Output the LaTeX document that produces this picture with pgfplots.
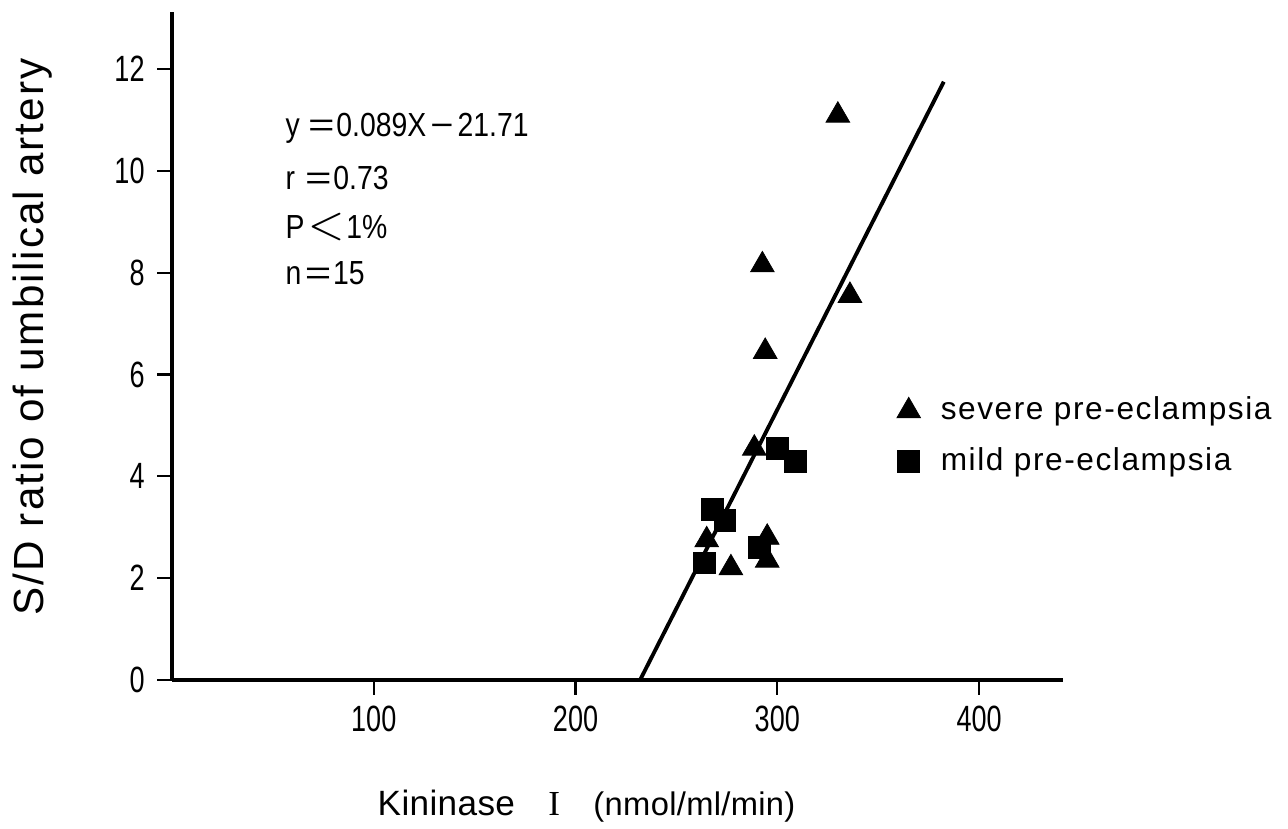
\documentclass[border=0pt]{standalone}
\usepackage{fontspec}
\setmainfont{Liberation Sans}
\newfontfamily\narrowfont[FakeStretch=0.74]{Liberation Sans}
\newfontfamily\notefont[FakeStretch=0.85]{Liberation Sans}
\newfontfamily\labfont[LetterSpace=5]{Liberation Sans}
\newfontfamily\xlabfont[LetterSpace=1]{Liberation Sans}
\newfontfamily\serfont{Liberation Serif}
\usepackage{pgfplots}
\pgfplotsset{compat=1.18}

% severe (triangles) and mild (squares) pre-eclampsia
\pgfplotstableread{
x y
330 11.09
336 7.55
292.6 8.15
294 6.45
288.6 4.55
265 2.75
277 2.2
295 2.8
295 2.35
}\severe
\pgfplotstableread{
x y
300 4.55
309 4.3
268 3.35
274 3.14
264 2.3
291 2.6
}\mild

\newcommand{\eq}{\scalebox{1.6}[1]{=}}

\begin{document}
\begin{tikzpicture}
\path[use as bounding box] (0,0) rectangle (12.88cm,8.29cm);
\begin{axis}[
  at={(1.72cm,1.49cm)}, anchor=south west,
  scale only axis, width=8.91cm, height=6.68cm,
  xmin=0, xmax=441.6, ymin=0, ymax=13.12,
  axis x line*=bottom, axis y line*=left,
  axis line style={line width=1pt, -},
  xtick={100,200,300,400}, ytick={0,2,...,12},
  tick align=outside, major tick length=0.15cm,
  tick style={line width=0.6pt, black},
  /pgf/number format/assume math mode=true,
  tick label style={font=\narrowfont\fontsize{10.4}{12}\selectfont},
  xticklabel style={yshift=0.5pt},
  clip=false,
  xlabel={\xlabfont\fontsize{10}{12}\selectfont Kininase\hspace{0.95em}{\serfont I}\hspace{0.95em}{\fontsize{9.3}{11}\selectfont(nmol/ml/min)}},
  xlabel style={at={(rel axis cs:0.2301,-0.2021)}, anchor=base west, inner sep=0pt},
  ylabel={S/D ratio of umbilical artery},
  ylabel style={at={(rel axis cs:-0.156,0.5135)}, anchor=center,
    font=\labfont\fontsize{12}{14}\selectfont},
  legend style={draw=none, fill=none, at={(axis cs:358.9,4.79)}, anchor=west,
    inner sep=0pt, row sep=0.08cm, font=\labfont\fontsize{9}{11}\selectfont},
  legend cell align=left,
  legend image code/.code={\path[draw=none] (0cm,0cm) -- (0.35cm,0cm);
    \draw[#1] plot coordinates {(0.1cm,0cm)};},
]
\addplot[only marks, mark=triangle*, mark size=3.9pt,
  mark options={fill=black, draw=black, line width=0.2pt}] table {\severe};
\addlegendentry{severe pre-eclampsia}
\addplot[only marks, mark=square*, mark size=3.1pt,
  mark options={fill=black, draw=black, line width=0.2pt}] table {\mild};
\addlegendentry{mild pre-eclampsia}
\addplot[black, line width=1.1pt, no marks, forget plot] coordinates {(232,0) (382.5,11.75)};

\begin{scope}[every node/.style={anchor=base west, inner sep=0pt,
    font=\notefont\fontsize{9.5}{11}\selectfont}]
\node at (axis cs:56,10.67) {y\hspace{0.25em}\eq\hspace{0.05em}0.089X\hspace{0.12em}\scalebox{1.4}[1]{−}\hspace{0.12em}21.71};
\node at (axis cs:56,9.63) {r\hspace{0.3em}\eq\hspace{0.05em}0.73};
\node at (axis cs:56,8.68) {P\hspace{0.1em}\scalebox{1.45}{$<$}\hspace{0.05em}1\%};
\node at (axis cs:56,7.76) {n\hspace{0.1em}\eq\hspace{0.05em}15};
\end{scope}
\end{axis}
\end{tikzpicture}
\end{document}
